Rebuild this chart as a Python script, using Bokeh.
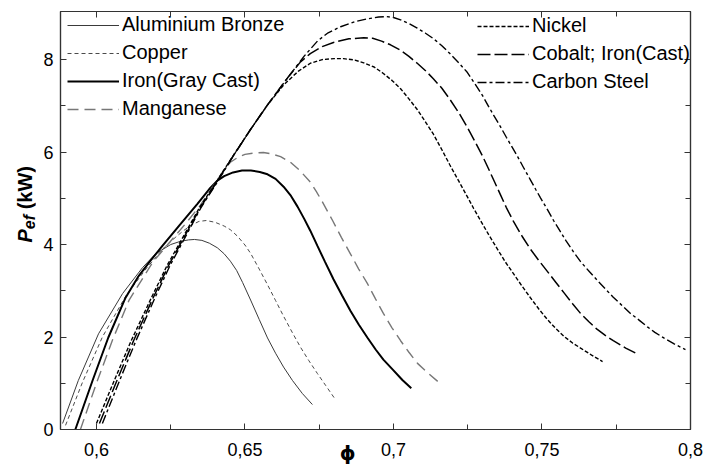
from bokeh.plotting import figure
from bokeh.layouts import row
from bokeh.models import (Legend, LegendItem, FixedTicker, CustomJSTickFormatter,
                          LinearAxis, Range1d, Div)
from bokeh.embed import file_html
from bokeh.resources import INLINE

# ---------------- data ----------------
names = ["Aluminium Bronze", "Copper", "Iron(Gray Cast)", "Manganese",
         "Nickel", "Cobalt; Iron(Cast)", "Carbon Steel"]

ab_x = [0.5886, 0.5939, 0.6007, 0.6088, 0.6155, 0.6199, 0.6250, 0.6283, 0.6310, 0.6330,
        0.6355, 0.6380, 0.6407, 0.6430, 0.6451, 0.6472, 0.6492, 0.6519, 0.6548, 0.6576,
        0.6603, 0.6630, 0.6660, 0.6693, 0.6727]
ab_y = [0.13, 1.06, 2.07, 2.94, 3.50, 3.80, 4.00, 4.07, 4.10, 4.11,
        4.09, 4.03, 3.93, 3.80, 3.64, 3.44, 3.18, 2.80, 2.38, 1.98,
        1.65, 1.35, 1.06, 0.78, 0.54]

cu_x = [0.5896, 0.5953, 0.6020, 0.6100, 0.6170, 0.6230, 0.6265, 0.6293, 0.6320, 0.6345,
        0.6370, 0.6400, 0.6430, 0.6451, 0.6475, 0.6500, 0.6519, 0.6548, 0.6576, 0.6603,
        0.6630, 0.6660, 0.6687, 0.6715, 0.6744, 0.6772, 0.6800]
cu_y = [0.09, 1.02, 2.00, 2.90, 3.50, 3.95, 4.15, 4.30, 4.42, 4.50,
        4.52, 4.48, 4.40, 4.32, 4.18, 3.99, 3.81, 3.47, 3.13, 2.79,
        2.45, 2.09, 1.78, 1.49, 1.21, 0.95, 0.69]

fe_x = [0.5929, 0.5987, 0.6040, 0.6098, 0.6140, 0.6182, 0.6222, 0.6280, 0.6340, 0.6380,
        0.6407, 0.6430, 0.6460, 0.6490, 0.6520, 0.6550, 0.6576, 0.6603, 0.6630, 0.6655,
        0.6677, 0.6700, 0.6720, 0.6744, 0.6770, 0.6798, 0.6827, 0.6855, 0.6883, 0.6912,
        0.6940, 0.6966, 0.7000, 0.7030, 0.7060]
fe_y = [0.00, 1.06, 1.99, 2.85, 3.30, 3.65, 3.97, 4.42, 4.88, 5.20,
        5.38, 5.48, 5.56, 5.60, 5.60, 5.57, 5.52, 5.42, 5.25, 5.05,
        4.82, 4.55, 4.30, 3.97, 3.62, 3.25, 2.90, 2.57, 2.27, 1.99,
        1.73, 1.51, 1.28, 1.07, 0.89]

mn_x = [0.5946, 0.6000, 0.6055, 0.6110, 0.6190, 0.6240, 0.6300, 0.6350, 0.6407, 0.6430,
        0.6451, 0.6475, 0.6500, 0.6530, 0.6562, 0.6590, 0.6620, 0.6653, 0.6685, 0.6720,
        0.6740, 0.6760, 0.6795, 0.6825, 0.6855, 0.6883, 0.6912, 0.6940, 0.6966, 0.6995,
        0.7024, 0.7052, 0.7081, 0.7120, 0.7158]
mn_y = [0.00, 1.00, 1.95, 2.80, 3.62, 4.00, 4.45, 4.85, 5.40, 5.62,
        5.78, 5.88, 5.95, 5.98, 5.99, 5.96, 5.90, 5.78, 5.60, 5.35,
        5.15, 4.93, 4.52, 4.15, 3.80, 3.47, 3.16, 2.82, 2.51, 2.20,
        1.92, 1.67, 1.43, 1.20, 0.99]

ni_x = [0.6000, 0.6060, 0.6117, 0.6185, 0.6238, 0.6286, 0.6347, 0.6398, 0.6460, 0.6520,
        0.6576, 0.6630, 0.6680, 0.6720, 0.6760, 0.6800, 0.6832, 0.6870, 0.6900, 0.6935,
        0.6966, 0.6995, 0.7024, 0.7052, 0.7080, 0.7108, 0.7135, 0.7163, 0.7190, 0.7220,
        0.7249, 0.7270, 0.7293, 0.7320, 0.7350, 0.7377, 0.7404, 0.7433, 0.7461, 0.7490,
        0.7518, 0.7547, 0.7575, 0.7603, 0.7630, 0.7667, 0.7704]
ni_y = [0.13, 1.06, 1.92, 2.85, 3.55, 4.10, 4.80, 5.30, 5.92, 6.50,
        7.02, 7.45, 7.75, 7.92, 8.00, 8.02, 8.02, 7.99, 7.93, 7.84,
        7.70, 7.55, 7.37, 7.15, 6.92, 6.65, 6.38, 6.05, 5.72, 5.37,
        5.03, 4.78, 4.52, 4.22, 3.90, 3.62, 3.37, 3.10, 2.85, 2.60,
        2.38, 2.18, 2.01, 1.87, 1.76, 1.61, 1.47]

co_x = [0.6010, 0.6069, 0.6125, 0.6191, 0.6243, 0.6290, 0.6350, 0.6400, 0.6461, 0.6520,
        0.6576, 0.6643, 0.6687, 0.6720, 0.6760, 0.6798, 0.6850, 0.6900, 0.6930, 0.6960,
        0.6990, 0.7024, 0.7052, 0.7080, 0.7108, 0.7135, 0.7163, 0.7190, 0.7220, 0.7249,
        0.7275, 0.7300, 0.7320, 0.7337, 0.7360, 0.7380, 0.7404, 0.7433, 0.7461, 0.7490,
        0.7518, 0.7547, 0.7575, 0.7603, 0.7630, 0.7658, 0.7685, 0.7712, 0.7740, 0.7782,
        0.7825]
co_y = [0.13, 1.06, 1.92, 2.85, 3.55, 4.10, 4.80, 5.30, 5.92, 6.50,
        7.02, 7.60, 7.95, 8.13, 8.28, 8.37, 8.45, 8.47, 8.46, 8.40,
        8.32, 8.20, 8.07, 7.92, 7.76, 7.58, 7.38, 7.14, 6.85, 6.53,
        6.22, 5.91, 5.64, 5.40, 5.08, 4.80, 4.50, 4.18, 3.90, 3.65,
        3.42, 3.18, 2.95, 2.72, 2.51, 2.33, 2.17, 2.04, 1.92, 1.76,
        1.62]

cs_x = [0.6020, 0.6078, 0.6133, 0.6197, 0.6248, 0.6294, 0.6352, 0.6402, 0.6461, 0.6520,
        0.6576, 0.6643, 0.6700, 0.6744, 0.6780, 0.6822, 0.6870, 0.6912, 0.6950, 0.6976,
        0.7000, 0.7024, 0.7052, 0.7080, 0.7108, 0.7135, 0.7163, 0.7190, 0.7220, 0.7249,
        0.7275, 0.7300, 0.7320, 0.7337, 0.7360, 0.7380, 0.7400, 0.7418, 0.7440, 0.7461,
        0.7480, 0.7495, 0.7518, 0.7539, 0.7560, 0.7580, 0.7605, 0.7630, 0.7660, 0.7687,
        0.7715, 0.7740, 0.7770, 0.7798, 0.7830, 0.7855, 0.7880, 0.7910, 0.7945, 0.7983]
cs_y = [0.13, 1.06, 1.92, 2.85, 3.55, 4.10, 4.80, 5.30, 5.92, 6.50,
        7.02, 7.60, 8.08, 8.40, 8.58, 8.71, 8.82, 8.88, 8.92, 8.93,
        8.91, 8.86, 8.78, 8.68, 8.57, 8.45, 8.30, 8.13, 7.93, 7.72,
        7.47, 7.22, 6.99, 6.80, 6.55, 6.32, 6.10, 5.90, 5.64, 5.40,
        5.18, 5.01, 4.76, 4.52, 4.30, 4.09, 3.85, 3.63, 3.41, 3.22,
        3.03, 2.86, 2.68, 2.51, 2.35, 2.22, 2.10, 1.98, 1.85, 1.73]

x_ticks = [0.6, 0.65, 0.7, 0.75, 0.8]
x_minor = [0.625, 0.675, 0.725, 0.775]
y_ticks = [0, 2, 4, 6, 8]
y_minor = [1, 3, 5, 7]

# ---------------- figure ----------------
FONT = "Liberation Sans"
LEFT_W = 35
p = figure(width=705 - LEFT_W, height=468, output_backend="svg", toolbar_location=None,
           x_range=Range1d(0.5879, 0.8), y_range=Range1d(0, 9.04),
           min_border_left=60 - LEFT_W, min_border_right=15, min_border_top=11,
           min_border_bottom=39, x_axis_location=None, y_axis_location=None)
p.grid.visible = False
p.outline_line_color = "#333333"
p.outline_line_width = 1.2
p.background_fill_color = "white"
p.border_fill_color = "white"

fmt_x = CustomJSTickFormatter(code="return tick.toString().replace('.', ',');")
fmt_blank = CustomJSTickFormatter(code="return '';")


def make_axis(ticks, minor, formatter):
    ax = LinearAxis(ticker=FixedTicker(ticks=ticks, minor_ticks=minor),
                    formatter=formatter, axis_label=None)
    ax.axis_line_color = "#333333"
    ax.axis_line_width = 1.2
    ax.major_tick_in = 6
    ax.major_tick_out = 0
    ax.minor_tick_in = 5
    ax.minor_tick_out = 0
    ax.major_tick_line_color = "#333333"
    ax.minor_tick_line_color = "#333333"
    ax.major_label_text_font = FONT
    ax.major_label_text_font_size = "18px"
    ax.major_label_text_color = "black"
    return ax


bottom = make_axis(x_ticks, x_minor, fmt_x)
bottom.major_label_standoff = 13
bottom.axis_label = "\u03d5" + "\u00a0" * 8
bottom.axis_label_text_font = "DejaVu Sans"
bottom.axis_label_text_font_size = "20px"
bottom.axis_label_text_font_style = "bold"
bottom.axis_label_text_color = "black"
bottom.axis_label_standoff = -18
top = make_axis(x_ticks, x_minor, fmt_blank)
top.major_label_standoff = 0
left = make_axis(y_ticks, y_minor, CustomJSTickFormatter(code="return tick.toString();"))
left.major_label_standoff = 7
right = make_axis(y_ticks, y_minor, fmt_blank)
right.major_label_standoff = 0
p.add_layout(bottom, "below")
p.add_layout(top, "above")
p.add_layout(left, "left")
p.add_layout(right, "right")

r_ab = p.line(ab_x, ab_y, line_color="#3a3a3a", line_width=1.0)
r_cu = p.line(cu_x, cu_y, line_color="#4a4a4a", line_width=1.0, line_dash="4 3")
r_fe = p.line(fe_x, fe_y, line_color="black", line_width=2.0)
r_mn = p.line(mn_x, mn_y, line_color="#777777", line_width=1.4, line_dash="11 6")
r_ni = p.line(ni_x, ni_y, line_color="black", line_width=1.4, line_dash="4 2")
r_co = p.line(co_x, co_y, line_color="black", line_width=1.5, line_dash="13 4")
r_cs = p.line(cs_x, cs_y, line_color="black", line_width=1.4, line_dash="9 3 3 3")

common = dict(label_text_font=FONT, label_text_font_size="20px", label_text_color="black",
              glyph_width=52, glyph_height=22, label_height=22, spacing=5, padding=0,
              margin=0, label_standoff=3, border_line_color=None, background_fill_alpha=0)

leg1 = Legend(items=[LegendItem(label=names[0], renderers=[r_ab]),
                     LegendItem(label=names[1], renderers=[r_cu]),
                     LegendItem(label=names[2], renderers=[r_fe]),
                     LegendItem(label=names[3], renderers=[r_mn])],
              location=(7, 309), **common)
leg2 = Legend(items=[LegendItem(label=names[4], renderers=[r_ni]),
                     LegendItem(label=names[5], renderers=[r_co]),
                     LegendItem(label=names[6], renderers=[r_cs])],
              location=(417, 336), **common)
p.add_layout(leg1, "center")
p.add_layout(leg2, "center")

# y-axis title with italic P and subscript "ef", as real HTML text
ylab = Div(text=(
    '<div style="position:relative;width:%dpx;height:468px;">'
    '<span style="position:absolute;left:13px;top:166px;writing-mode:vertical-rl;'
    'transform:rotate(180deg);font-family:\'Liberation Sans\';font-weight:bold;'
    'font-size:20px;line-height:24px;white-space:nowrap;color:black;">'
    '<i>P<sub style="font-size:16px;">ef</sub></i> (kW)</span></div>') % LEFT_W,
    width=LEFT_W, height=468, margin=0)

layout = row(ylab, p, spacing=0)
open("out.html", "w").write(file_html(layout, INLINE))
